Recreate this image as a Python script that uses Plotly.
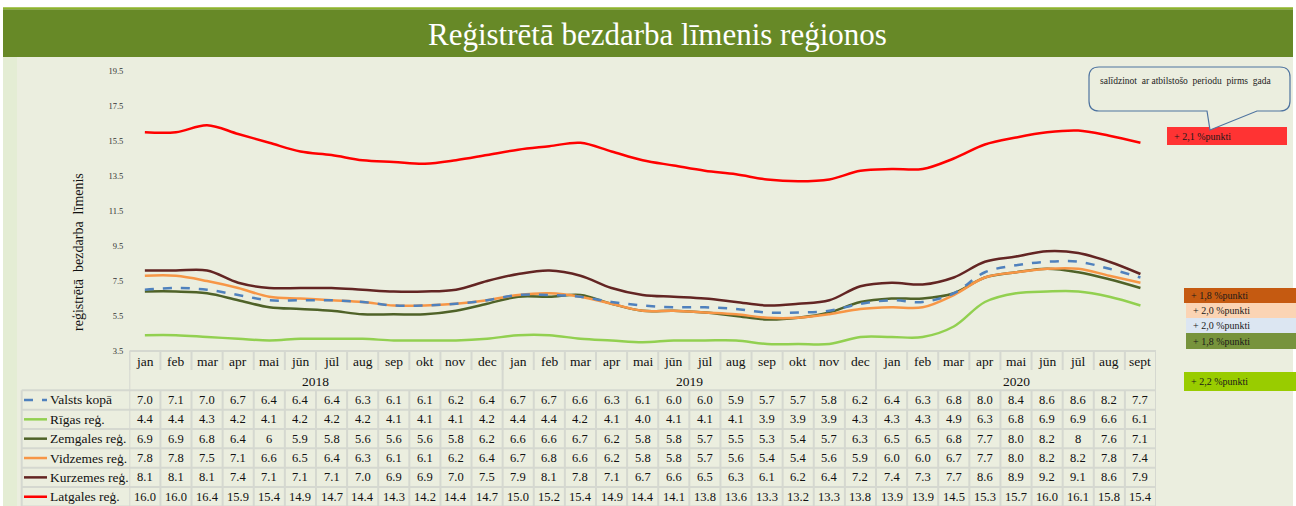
import plotly.graph_objects as go

W, H = 1296, 506

MONTHS = ["jan", "feb", "mar", "apr", "mai", "jūn", "jūl", "aug", "sep", "okt", "nov", "dec",
          "jan", "feb", "mar", "apr", "mai", "jūn", "jūl", "aug", "sep", "okt", "nov", "dec",
          "jan", "feb", "mar", "apr", "mai", "jūn", "jūl", "aug", "sept"]
YEARS = ["2018", "2019", "2020"]
YEAR_START = [0, 12, 24]

valsts = [7.0, 7.1, 7.0, 6.7, 6.4, 6.4, 6.4, 6.3, 6.1, 6.1, 6.2, 6.4,
          6.7, 6.7, 6.6, 6.3, 6.1, 6.0, 6.0, 5.9, 5.7, 5.7, 5.8, 6.2,
          6.4, 6.3, 6.8, 8.0, 8.4, 8.6, 8.6, 8.2, 7.7]
rigas = [4.4, 4.4, 4.3, 4.2, 4.1, 4.2, 4.2, 4.2, 4.1, 4.1, 4.1, 4.2,
         4.4, 4.4, 4.2, 4.1, 4.0, 4.1, 4.1, 4.1, 3.9, 3.9, 3.9, 4.3,
         4.3, 4.3, 4.9, 6.3, 6.8, 6.9, 6.9, 6.6, 6.1]
zemgales = [6.9, 6.9, 6.8, 6.4, 6, 5.9, 5.8, 5.6, 5.6, 5.6, 5.8, 6.2,
            6.6, 6.6, 6.7, 6.2, 5.8, 5.8, 5.7, 5.5, 5.3, 5.4, 5.7, 6.3,
            6.5, 6.5, 6.8, 7.7, 8.0, 8.2, 8, 7.6, 7.1]
vidzemes = [7.8, 7.8, 7.5, 7.1, 6.6, 6.5, 6.4, 6.3, 6.1, 6.1, 6.2, 6.4,
            6.7, 6.8, 6.6, 6.2, 5.8, 5.8, 5.7, 5.6, 5.4, 5.4, 5.6, 5.9,
            6.0, 6.0, 6.7, 7.7, 8.0, 8.2, 8.2, 7.8, 7.4]
kurzemes = [8.1, 8.1, 8.1, 7.4, 7.1, 7.1, 7.1, 7.0, 6.9, 6.9, 7.0, 7.5,
            7.9, 8.1, 7.8, 7.1, 6.7, 6.6, 6.5, 6.3, 6.1, 6.2, 6.4, 7.2,
            7.4, 7.3, 7.7, 8.6, 8.9, 9.2, 9.1, 8.6, 7.9]
latgales = [16.0, 16.0, 16.4, 15.9, 15.4, 14.9, 14.7, 14.4, 14.3, 14.2, 14.4, 14.7,
            15.0, 15.2, 15.4, 14.9, 14.4, 14.1, 13.8, 13.6, 13.3, 13.2, 13.3, 13.8,
            13.9, 13.9, 14.5, 15.3, 15.7, 16.0, 16.1, 15.8, 15.4]

# table row order
ROWS = [("Valsts kopā", valsts, "#4F81BD", "dash"),
        ("Rīgas reģ.", rigas, "#92D050", "solid"),
        ("Zemgales reģ.", zemgales, "#4F6228", "solid"),
        ("Vidzemes reģ.", vidzemes, "#F79646", "solid"),
        ("Kurzemes reģ.", kurzemes, "#632523", "solid"),
        ("Latgales reģ.", latgales, "#FF0000", "solid")]

# year-on-year change labels (right side)
CHANGES = [("+ 2,1 %punkti", "#FF3333", 1167, 1287, 127, 145),
           ("+ 1,8 %punkti", "#C55A11", 1184, 1296, 288, 303),
           ("+ 2,0 %punkti", "#FBD4B4", 1186, 1296, 303, 318),
           ("+ 2,0 %punkti", "#DCE6F2", 1186, 1296, 318, 333),
           ("+ 1,8 %punkti", "#77933C", 1186, 1296, 333, 349),
           ("+ 2,2 %punkti", "#99CC00", 1184, 1296, 372, 391)]

SERIF = "Liberation Serif, Times New Roman, serif"
GRID = "#D5D8D0"


def fx(p):
    return p / W


def fy(p):
    return 1 - p / H


def note(text, x, y, xref="paper", xanchor="center", size=13.5, color="#111111", **kw):
    return dict(text=text, x=x, y=y, xref=xref, yref="paper", xanchor=xanchor, yanchor="middle",
                showarrow=False, font=dict(family=SERIF, size=size, color=color), **kw)


x_idx = list(range(len(MONTHS)))
fig = go.Figure()

for i in [1, 2, 3, 4, 5, 0]:
    name, vals, col, dash = ROWS[i]
    fig.add_trace(go.Scatter(x=x_idx, y=vals, mode="lines", name=name,
                             line=dict(color=col, width=2.5, dash=dash,
                                       shape="spline", smoothing=1)))

shapes = []
ann = []

# background pieces
shapes.append(dict(type="rect", xref="paper", yref="paper", x0=fx(3), x1=fx(17), y0=0, y1=fy(57),
                   fillcolor="#E4EDD4", line_width=0, layer="below"))
shapes.append(dict(type="rect", xref="paper", yref="paper", x0=fx(17), x1=fx(1293), y0=0, y1=fy(57),
                   fillcolor="#EBEEDF", line_width=0, layer="below"))
shapes.append(dict(type="rect", xref="paper", yref="paper", x0=fx(3), x1=fx(1293), y0=fy(57), y1=fy(9.3),
                   fillcolor="#678927", line_width=0, layer="below"))
shapes.append(dict(type="rect", xref="paper", yref="paper", x0=fx(3), x1=fx(1293), y0=fy(9.3), y1=fy(7.3),
                   fillcolor="#8DB32B", line_width=0, layer="below"))

ann.append(note("Reģistrētā bezdarba līmenis reģionos", fx(657), fy(34), size=31, color="white"))
ann.append(dict(text="Ielikums 3.2", x=fx(1290), y=fy(5), xref="paper", yref="paper", xanchor="right",
                yanchor="bottom", showarrow=False, font=dict(family=SERIF, size=15, color="#222222")))
ann.append(note("reģistrētā  bezdarba  līmenis", fx(78), fy(252), size=14, textangle=-90))

# table geometry (pixels)
T_TOP, MONTH_Y, YEAR_Y, DATA_TOP, ROW_H = 351, 361.7, 381.7, 390.3, 19.35
LEG_LEFT = 21.7
n = len(MONTHS)

shapes.append(dict(type="line", xref="x", yref="paper", x0=-0.5, x1=n - 0.5, y0=fy(T_TOP), y1=fy(T_TOP),
                   line=dict(color=GRID, width=2)))
for k in range(len(ROWS) + 1):
    yy = fy(DATA_TOP + k * ROW_H)
    shapes.append(dict(type="line", xref="paper", yref="paper", x0=fx(LEG_LEFT), x1=fx(1156), y0=yy, y1=yy,
                       line=dict(color=GRID, width=2)))
shapes.append(dict(type="line", xref="paper", yref="paper", x0=fx(LEG_LEFT), x1=fx(LEG_LEFT),
                   y0=fy(DATA_TOP), y1=0, line=dict(color=GRID, width=2)))
for i in range(n + 1):
    xx = i - 0.5
    shapes.append(dict(type="line", xref="x", yref="paper", x0=xx, x1=xx, y0=fy(T_TOP), y1=fy(370),
                       line=dict(color=GRID, width=2)))
    shapes.append(dict(type="line", xref="x", yref="paper", x0=xx, x1=xx, y0=fy(DATA_TOP), y1=0,
                       line=dict(color=GRID, width=2)))
for i in YEAR_START + [n]:
    shapes.append(dict(type="line", xref="x", yref="paper", x0=i - 0.5, x1=i - 0.5, y0=fy(T_TOP), y1=fy(DATA_TOP),
                       line=dict(color=GRID, width=2)))

for i, m in enumerate(MONTHS):
    ann.append(note(m, i, fy(MONTH_Y), xref="x"))
for j, yr in enumerate(YEARS):
    end = YEAR_START[j + 1] if j + 1 < len(YEARS) else n
    ann.append(note(yr, (YEAR_START[j] + end - 1) / 2, fy(YEAR_Y), xref="x"))

for r, (name, vals, col, dash) in enumerate(ROWS):
    cy = fy(DATA_TOP + (r + 0.5) * ROW_H)
    shapes.append(dict(type="line", xref="paper", yref="paper", x0=fx(24), x1=fx(47), y0=cy, y1=cy,
                       line=dict(color=col, width=2.5, dash=dash)))
    ann.append(note(name, fx(48), cy, xanchor="left"))
    for i, v in enumerate(vals):
        ann.append(note(str(v), i, cy, xref="x", size=12.5))

# callout bubble
x0, x1, y0, y1, rr = 1089, 1290, 67, 111, 10


def P(px, py):
    return f"{fx(px):.5f},{fy(py):.5f}"


path = (f"M {P(x0 + rr, y0)} L {P(x1 - rr, y0)} Q {P(x1, y0)} {P(x1, y0 + rr)} "
        f"L {P(x1, y1 - rr)} Q {P(x1, y1)} {P(x1 - rr, y1)} L {P(1257, y1)} L {P(1210, 130)} "
        f"L {P(1207, y1)} L {P(x0 + rr, y1)} Q {P(x0, y1)} {P(x0, y1 - rr)} L {P(x0, y0 + rr)} "
        f"Q {P(x0, y0)} {P(x0 + rr, y0)} Z")
for label, col, bx0, bx1, by0, by1 in CHANGES:
    shapes.append(dict(type="rect", xref="paper", yref="paper", x0=fx(bx0), x1=fx(bx1), y0=fy(by1), y1=fy(by0),
                       fillcolor=col, line_width=0))
    ann.append(note(label, fx(bx0 + 5), fy((by0 + by1) / 2), xanchor="left", size=10, color="#1a1a1a"))
shapes.append(dict(type="path", path=path, xref="paper", yref="paper", fillcolor="#EBEEDF",
                   line=dict(color="#4F74A0", width=1.2)))
ann.append(note("salīdzinot  ar atbilstošo  periodu  pirms  gada", fx(1098), fy(81), xanchor="left",
                size=9.5, color="#222222"))

fig.update_layout(
    width=W, height=H,
    margin=dict(l=0, r=0, t=0, b=0, pad=0, autoexpand=False),
    paper_bgcolor="white", plot_bgcolor="rgba(0,0,0,0)",
    showlegend=False,
    xaxis=dict(domain=[fx(129.3), fx(1156)], range=[-0.5, n - 0.5], visible=False),
    yaxis=dict(domain=[fy(351), fy(71)], range=[3.5, 19.5], tick0=3.5, dtick=2, showgrid=False,
               zeroline=False, showline=False, ticks="", ticklabelstandoff=5, tickformat=".1f",
               tickfont=dict(family=SERIF, size=8.5, color="#333333")),
    shapes=shapes, annotations=ann,
)

# page body has a default 8px margin; remove it so the figure fills the window
fig.write_html("out.html", config={"displayModeBar": False},
               post_script="document.body.style.margin='0';")
